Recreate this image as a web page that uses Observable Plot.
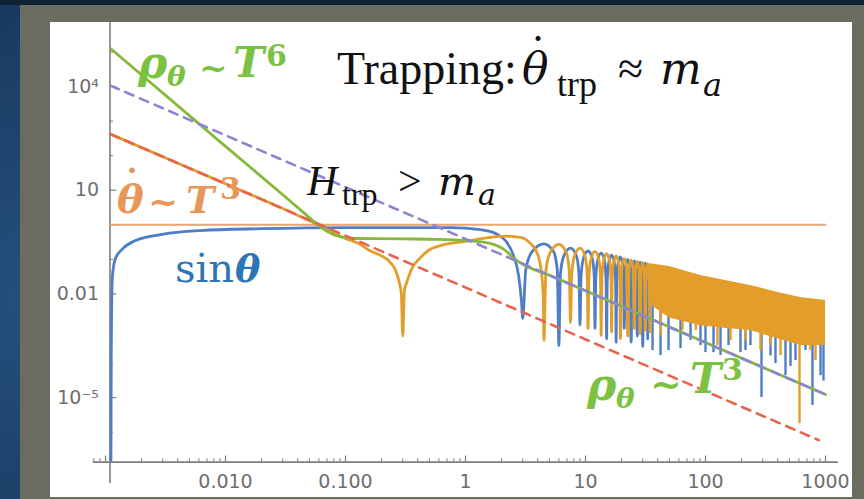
<!DOCTYPE html>
<html><head><meta charset="utf-8">
<script src="https://cdn.jsdelivr.net/npm/d3@7"></script>
<script src="https://cdn.jsdelivr.net/npm/@observablehq/plot@0.6"></script>
<style>
html,body{margin:0;padding:0;}
body{width:864px;height:499px;overflow:hidden;position:relative;background:#1d426b;}
#bg{position:absolute;left:0;top:0;width:864px;height:499px;
 background:radial-gradient(ellipse at 10% 60%, #24507e 0%, #1b3d63 60%, #142e4c 100%);}
#topstrip{position:absolute;left:0;top:0;width:864px;height:5px;background:#0f2236;}
#frame{position:absolute;left:20px;top:5px;width:844px;height:494px;background:#6b6c5f;}
#panel{position:absolute;left:50px;top:22px;width:802px;height:475px;background:#ffffff;}
#chart{position:absolute;left:0;top:0;width:864px;height:499px;}
</style></head><body>
<div id="bg"></div><div id="topstrip"></div><div id="frame"></div><div id="panel"></div><div id="chart"></div>
<script>
// ---------- data ----------
const xTicks = [0.01, 0.1, 1, 10, 100, 1000];
const xTickLabels = ["0.010", "0.100", "1", "10", "100", "1000"];
const yTicks = [1e4, 10, 0.01, 1e-5];
const yTickLabels = ["10\u2074", "10", "0.01", "10\u207B\u2075"];
const xDecades = [0.0001, 0.001, 0.01, 0.1, 1, 10, 100];
const minorMultipliers = [2, 3, 4, 5, 6, 7, 8, 9];
const yDecades = [1e-6, 1e-5, 1e-4, 1e-3, 1e-2, 1e-1, 1, 10, 100, 1e3, 1e4, 1e5];

const xAxisY = 1.36e-7;            // where the horizontal axis crosses
const yAxisX = 0.00109;            // where the vertical axis crosses
const xAxisExtent = [0.00079, 1280];
const yAxisExtent = [3.2e-8, 7.1e5];

// horizontal reference line  (theta-dot = m_a)
const trapLine = [[0.0011, 1], [1000, 1]];
// dashed power laws
const hubbleLine = [[0.0011, 1.06e4], [1000, 1.23e-5]];
const thetaDotLaw = [[0.0011, 419], [880, 5.86e-7]];

// sin(theta)
const sinTheta = [
  [0.00111,1.5e-7],[0.001117,2.3e-4],[0.001127,6.5e-3],[0.001143,0.034],[0.00121,0.105],
  [0.001386,0.20],[0.00178,0.35],[0.00288,0.52],[0.0062,0.68],[0.0195,0.77],[0.11,0.83],
  [0.75,0.83],[1.33,0.72],[1.78,0.56],[2.15,0.35],[2.51,0.13],[2.77,0.034],[2.93,0.006],[3.0,1.95e-3],
  [3.18,0.05],[3.6,0.17],[4.5,0.28],[5.4,0.17],[5.82,0.05],[6.0,3.2e-4],
  [6.18,0.037],[6.6,0.126],[7.5,0.21],[8.4,0.126],[8.82,0.037],[9.0,1.26e-3],
  [9.18,0.031],[9.6,0.105],[10.5,0.174],[11.4,0.105],[11.82,0.031],[12.0,1e-3],
  [12.18,0.027],[12.6,0.091],[13.5,0.151],[14.4,0.091],[14.82,0.027],[15.0,5e-4],
  [15.18,0.0234],[15.6,0.079],[16.5,0.132],[17.4,0.079],[17.82,0.0234],[18.0,4e-4],
  [18.18,0.021],[18.6,0.071],[19.5,0.117],[20.4,0.071],[20.82,0.021],[21.0,1e-3],
  [21.6,0.06],[22.5,0.10],[23.4,0.06],[24.0,4e-4],
  [24.6,0.054],[25.5,0.09],[26.4,0.054],[27.0,6e-4],
  [27.6,0.05],[28.5,0.083],[29.4,0.05],[30.0,3e-4],
  [30.6,0.046],[31.5,0.077],[32.4,0.046],[33.0,5e-4]
];
// visible deep spikes of sin(theta) in the dense part: [x, top, bottom]
const sinSpikes = [
  [36.2,0.01,2.3e-4],[42.2,0.01,1.64e-4],[49.2,0.01,2.3e-4],[61.9,0.01,2.62e-4],[75.0,0.005,4.5e-4],
  [90.9,0.005,3.2e-4],[100,0.005,2.0e-4],[116.6,0.005,2.0e-4],[133.4,0.005,1.64e-4],[155.6,0.005,3.2e-4],
  [195.7,0.005,2.0e-4],[215.4,0.005,2.3e-4],[237,0.005,3.2e-4],[292.9,0.005,1.0e-5],[348,0.004,1.6e-4],
  [383.1,0.004,9.7e-5],[464.2,0.004,4.3e-5],[511,0.003,8e-5],[562.3,0.003,1.18e-4],[681,0.003,2.3e-4],
  [779,0.003,5.9e-6],[908.6,0.003,4.3e-5],[962,0.003,3e-5]
];

// theta-dot
const thetaDot = [
  [0.0011,419],[0.01,15.3],[0.0316,2.72],[0.045,1.55],[0.056,1.1],[0.07,0.72],[0.1,0.40],
  [0.13,0.28],[0.158,0.18],[0.196,0.13],[0.23,0.089],[0.26,0.05],[0.28,0.022],[0.292,0.01],
  [0.3,6e-4],[0.31,0.013],[0.32,0.019],[0.36,0.057],[0.42,0.11],[0.49,0.18],[0.62,0.25],
  [1.0,0.33],[1.6,0.43],[2.15,0.47],[2.86,0.43],[3.47,0.29],[3.96,0.15],[4.3,0.04],[4.45,0.008],[4.5,4.5e-4],
  [4.68,0.048],[5.1,0.162],[6.0,0.27],[6.9,0.162],[7.32,0.048],[7.5,1.48e-3],
  [7.68,0.037],[8.1,0.126],[9.0,0.21],[9.9,0.126],[10.32,0.037],[10.5,1e-3],
  [10.68,0.030],[11.1,0.102],[12.0,0.17],[12.9,0.102],[13.32,0.030],[13.5,6.3e-4],
  [13.68,0.0257],[14.1,0.087],[15.0,0.145],[15.9,0.087],[16.32,0.0257],[16.5,7.9e-4],
  [16.68,0.0224],[17.1,0.076],[18.0,0.126],[18.9,0.076],[19.32,0.0224],[19.5,5e-4],
  [20.1,0.063],[21.0,0.105],[21.9,0.063],[22.5,6e-4],
  [23.1,0.056],[24.0,0.094],[24.9,0.056],[25.5,1e-3],
  [26.1,0.052],[27.0,0.087],[27.9,0.052],[28.5,7e-4],
  [29.1,0.048],[30.0,0.080],[30.9,0.048],[31.5,9e-4],
  [32.1,0.045],[33.0,0.075],[33.9,0.045],[34.5,8e-4]
];
// dense oscillating part of theta-dot: [x, top, bottom]
const thetaDotBand = [
  [33,0.075,0.03],[36,0.073,0.0045],[50,0.062,0.002],[91,0.034,0.0012],
  [150,0.024,0.001],[237,0.0174,8.7e-4],[400,0.011,5e-4],[619,0.0079,3.2e-4],[1000,0.0064,3.2e-4]
];
const thetaDotSpikes = [
  [42.2,0.01,6.2e-4],[64.3,0.01,8.7e-4],[83,0.01,8.7e-4],[125.9,0.01,3.2e-4],
  [161.6,0.01,4.47e-4],[215,0.005,4.5e-4],[287.3,0.005,2.3e-4],[348,0.005,3.2e-4],[421.7,0.005,1.64e-4],
  [607.4,0.004,1.77e-6],[750,0.004,2.3e-4],[825.4,0.003,1.18e-4]
];

// rho_theta
const rhoTheta = [
  [0.0011,1.26e5],[0.01,186],[0.03,7.4],[0.045,2.2],[0.056,1.15],[0.07,0.65],[0.09,0.45],
  [0.12,0.40],[0.3,0.39],[0.6,0.38],[1.0,0.35],[1.6,0.29],[2.15,0.18],[2.5,0.11],[3.0,0.072],
  [3.5,0.055],[4.5,0.04],[10,0.0123],[100,3.9e-4],[1000,1.23e-5]
];

// annotation texts
const annRho6 = ["\u03C1", "\u03B8", "~", "T", "6"];
const annTrap = ["Trapping:", "\u03B8", "\u02D9", "trp", "\u2248", "m", "a"];
const annH = ["H", "trp", ">", "m", "a"];
const annThetaDot = ["\u03B8", "\u02D9", "~", "T", "3"];
const annSin = ["sin", "\u03B8"];
const annRho3 = ["\u03C1", "\u03B8", "~", "T", "3"];

// ---------- styles ----------
const blue = "#4f7dc6", orange = "#e39d2a", green = "#86b83a", red = "#e8644c",
      purple = "#8a86d2", tan = "#e8a474", axisColor = "#7d7d7d", labelColor = "#6e6e6e";

const xMinor = xDecades.flatMap(d => minorMultipliers.map(m => d * m)).filter(v => v >= 0.00079 && v <= 1000);
const xMajor = [0.001, ...xTicks];
const yMinor = yDecades.filter(v => !yTicks.includes(v));

const line = (data, o) => Plot.line(data, {x: d => d[0], y: d => d[1], ...o});

const svg = Plot.plot({
  width: 864, height: 499,
  marginLeft: 105, marginRight: 39, marginTop: 16.9, marginBottom: 32.8,
  style: {background: "transparent", overflow: "visible"},
  x: {type: "log", domain: [0.001, 1000], axis: null},
  y: {type: "log", domain: [1e-7, 1e6], axis: null},
  marks: [
    Plot.ruleY([xAxisY], {y: d => d, x1: xAxisExtent[0], x2: xAxisExtent[1], stroke: axisColor, strokeWidth: 1.6}),
    Plot.ruleX([yAxisX], {x: d => d, y1: yAxisExtent[0], y2: yAxisExtent[1], stroke: axisColor, strokeWidth: 1.6}),
    Plot.ruleX(xMinor, {x: d => d, y1: xAxisY, y2: xAxisY * 1.25, stroke: axisColor, strokeWidth: 1}),
    Plot.ruleX(xMajor, {x: d => d, y1: xAxisY, y2: xAxisY * 1.5, stroke: axisColor, strokeWidth: 1.2}),
    Plot.ruleY(yMinor, {y: d => d, x1: yAxisX, x2: yAxisX * 1.07, stroke: axisColor, strokeWidth: 1}),
    Plot.ruleY(yTicks, {y: d => d, x1: yAxisX, x2: yAxisX * 1.14, stroke: axisColor, strokeWidth: 1.2}),
    Plot.text(xTicks, {x: d => d, y: xAxisY, dy: 20, text: (d, i) => xTickLabels[i],
      fontSize: 19, fill: labelColor, fontFamily: "DejaVu Sans", textAnchor: "middle"}),
    Plot.text(yTicks, {x: yAxisX, y: d => d, dx: -11, text: (d, i) => yTickLabels[i],
      fontSize: 19, fill: labelColor, fontFamily: "DejaVu Sans", textAnchor: "end"}),
    line(trapLine, {stroke: tan, strokeWidth: 2}),
    line(sinTheta, {stroke: blue, strokeWidth: 2.8, curve: "monotone-x"}),
    Plot.ruleX(sinSpikes, {x: d => d[0], y1: d => d[1], y2: d => d[2], stroke: blue, strokeWidth: 2.4}),
    line(thetaDot, {stroke: orange, strokeWidth: 2.8, curve: "monotone-x"}),
    Plot.areaY(thetaDotBand, {x: d => d[0], y1: d => d[2], y2: d => d[1], fill: orange}),
    Plot.ruleX(thetaDotSpikes, {x: d => d[0], y1: d => d[1], y2: d => d[2], stroke: orange, strokeWidth: 2.4}),
    line(rhoTheta, {stroke: green, strokeWidth: 2.8, curve: "monotone-x"}),
    line(thetaDotLaw, {stroke: red, strokeWidth: 2.6, strokeDasharray: "9,7"}),
    line(hubbleLine, {stroke: purple, strokeWidth: 2.6, strokeDasharray: "9,7"})
  ]
});
document.getElementById("chart").appendChild(svg);

// ---------- math annotations (real text, one piece per glyph group) ----------
const DV = "DejaVu Serif", LS = "Liberation Serif";
function piece(s, x, y, size, o = {}) {
  d3.select(svg).append("text").attr("x", x).attr("y", y).attr("font-size", size)
    .attr("font-family", o.f || LS).attr("font-style", o.i ? "italic" : "normal")
    .attr("font-weight", o.b ? "bold" : "normal").attr("fill", o.c || "#111")
    .attr("text-anchor", o.a || "start").text(s);
}
const gTxt = "#7cc242", oTxt = "#e8975a", bTxt = "#2e75b6";
// rho ~ T^6
piece(annRho6[0], 138, 78, 44, {f: DV, i: 1, b: 1, c: gTxt});
piece(annRho6[1], 167, 86, 28, {f: DV, i: 1, b: 1, c: gTxt});
piece(annRho6[2], 199, 80, 34, {f: DV, b: 1, c: gTxt});
piece(annRho6[3], 233, 77, 42, {f: DV, i: 1, b: 1, c: gTxt});
piece(annRho6[4], 266, 66, 30, {f: DV, b: 1, c: gTxt});
// Trapping
piece(annTrap[0], 337, 84, 46);
piece(annTrap[1], 522, 84, 44, {f: DV, i: 1});
piece(annTrap[2], 538, 70, 44, {f: DV, a: "middle"});
piece(annTrap[3], 557, 96, 36);
piece(annTrap[4], 618, 84, 46);
piece(annTrap[5], 660, 84, 44, {f: DV, i: 1});
piece(annTrap[6], 703, 96, 32, {f: DV, i: 1});
// H_trp > m_a
piece(annH[0], 307, 195, 42, {i: 1});
piece(annH[1], 342, 205, 32);
piece(annH[2], 398, 195, 42);
piece(annH[3], 438, 195, 40, {f: DV, i: 1});
piece(annH[4], 478, 205, 30, {f: DV, i: 1});
// theta-dot ~ T^3
piece(annThetaDot[0], 117, 213, 40, {f: DV, i: 1, b: 1, c: oTxt});
piece(annThetaDot[1], 132, 198, 40, {f: DV, b: 1, a: "middle", c: oTxt});
piece(annThetaDot[2], 148, 214, 36, {f: DV, b: 1, c: oTxt});
piece(annThetaDot[3], 186, 213, 38, {f: DV, i: 1, b: 1, c: oTxt});
piece(annThetaDot[4], 220, 199, 30, {f: DV, b: 1, c: oTxt});
// sin theta
piece(annSin[0], 175, 282, 40, {f: DV, c: bTxt});
piece(annSin[1], 235, 282, 38, {f: DV, i: 1, b: 1, c: bTxt});
// rho ~ T^3
piece(annRho3[0], 587, 400, 44, {f: DV, i: 1, b: 1, c: gTxt});
piece(annRho3[1], 616, 408, 28, {f: DV, i: 1, b: 1, c: gTxt});
piece(annRho3[2], 650, 397, 38, {f: DV, b: 1, c: gTxt});
piece(annRho3[3], 690, 393, 42, {f: DV, i: 1, b: 1, c: gTxt});
piece(annRho3[4], 722, 380, 30, {f: DV, b: 1, c: gTxt});
</script></body></html>
